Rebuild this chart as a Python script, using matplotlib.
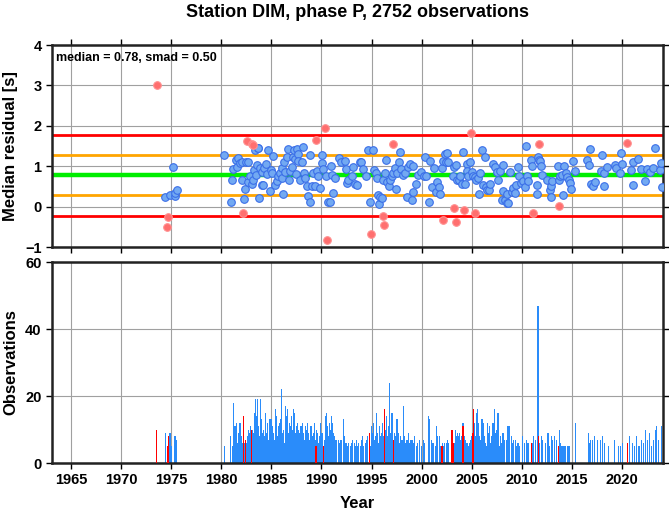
import numpy as np
import matplotlib
matplotlib.use("Agg")
import matplotlib.pyplot as plt

plt.rcParams['font.family'] = ['Liberation Sans', 'DejaVu Sans']

MEDIAN = 0.78
SMAD = 0.50

# monthly median residuals (year, value) -- within bounds
blue_years = [1974.4, 1974.9, 1975.15, 1975.35, 1975.4, 1975.55,
              1980.27, 1980.93, 1981.03, 1981.2, 1981.43, 1981.53, 1981.7, 1981.87, 1982.03,
              1982.1, 1982.3, 1982.37, 1982.5, 1982.63, 1982.7, 1982.86, 1983.03, 1983.2, 1983.3,
              1983.36, 1983.46, 1983.53, 1983.66, 1983.7, 1983.8, 1983.9, 1984.03, 1984.1, 1984.2,
              1984.3, 1984.45, 1984.55, 1984.7, 1984.86, 1985.0, 1985.1, 1985.2, 1985.36, 1985.53,
              1985.7, 1985.86, 1986.02, 1986.1, 1986.19, 1986.29, 1986.4, 1986.52, 1986.69, 1986.76,
              1986.9, 1987.02, 1987.19, 1987.29, 1987.35, 1987.45, 1987.52, 1987.62, 1987.69, 1987.85,
              1988.02, 1988.19, 1988.29, 1988.35, 1988.52, 1988.69, 1988.85, 1988.9, 1989.02, 1989.18,
              1989.35, 1989.52, 1989.68, 1989.85, 1990.01, 1990.08, 1990.18, 1990.45, 1990.68, 1990.85,
              1990.95, 1991.01, 1991.18, 1991.35, 1991.75, 1991.95, 1992.35, 1992.45, 1992.51, 1992.68,
              1993.01, 1993.18, 1993.34, 1993.51, 1993.84, 1994.0, 1994.17, 1994.44, 1994.67, 1994.84,
              1995.1, 1995.24, 1995.44, 1995.57, 1995.67, 1995.7, 1995.84, 1996.0, 1996.1, 1996.34,
              1996.44, 1996.57, 1996.7, 1996.84, 1997.0, 1997.1, 1997.33, 1997.43, 1997.57, 1997.77,
              1997.83, 1997.9, 1998.1, 1998.33, 1998.5, 1998.67, 1998.83, 1999.0, 1999.1, 1999.16,
              1999.43, 1999.66, 1999.99, 2000.23, 2000.33, 2000.43, 2000.76, 2000.89, 2000.99, 2001.23,
              2001.43, 2001.56, 2001.69, 2001.83, 2001.99, 2002.16, 2002.32, 2002.42, 2002.56, 2002.66,
              2003.09, 2003.22, 2003.42, 2003.49, 2003.75, 2003.82, 2003.99, 2004.15, 2004.32, 2004.49,
              2004.55, 2004.65, 2004.82, 2004.99, 2005.15, 2005.32, 2005.48, 2005.65, 2005.75, 2005.88,
              2006.02, 2006.15, 2006.32, 2006.4, 2006.55, 2006.75, 2006.88, 2007.08, 2007.31, 2007.48,
              2007.65, 2007.81, 2007.98, 2008.08, 2008.14, 2008.34, 2008.48, 2008.54, 2008.58, 2008.81,
              2008.98, 2009.14, 2009.31, 2009.47, 2009.64, 2009.71, 2009.97, 2010.14, 2010.37, 2010.47,
              2010.57, 2010.64, 2010.9, 2011.04, 2011.5, 2011.55, 2011.64, 2011.75, 2011.8, 2011.9,
              2012.04, 2012.57, 2012.8, 2012.9, 2012.97, 2013.03, 2013.57, 2013.75, 2013.8, 2013.97,
              2014.13, 2014.23, 2014.37, 2014.56, 2014.7, 2014.83, 2014.96, 2015.13, 2015.36, 2016.56,
              2016.69, 2016.79, 2016.96, 2017.13, 2017.29, 2017.89, 2018.06, 2018.19, 2018.22, 2018.56,
              2019.29, 2019.45, 2019.79, 2019.89, 2020.02, 2020.88, 2021.11, 2021.15, 2021.61, 2021.95,
              2022.28, 2022.55, 2022.78, 2023.11, 2023.28, 2023.78, 2023.95, 2024.0]
blue_vals = [0.23, 0.28, 0.97, 0.27, 0.34, 0.41,
             1.27, 0.11, 0.66, 0.93, 1.16, 0.98, 1.20, 1.08, 0.65,
             1.10, 0.19, 0.44, 1.11, 1.10, 0.61, 0.75, 0.57, 0.65, 0.90,
             1.39, 0.79, 1.02, 1.44, 1.45, 0.22, 0.95, 0.54, 0.85, 0.54,
             0.95, 1.05, 0.80, 1.39, 0.38, 0.90, 0.82, 1.26, 0.54, 0.63,
             0.75, 0.83, 0.71, 0.95, 0.30, 1.10, 0.85, 1.24, 1.43, 0.67,
             0.88, 0.98, 1.24, 1.39, 1.18, 0.80, 1.43, 1.31, 1.12, 0.67,
             1.10, 1.48, 0.83, 0.71, 0.50, 0.27, 0.11, 1.29, 0.50, 0.83,
             0.50, 0.87, 0.75, 0.46, 1.29, 1.07, 0.93, 0.75, 0.11, 0.11,
             1.01, 0.79, 0.34, 0.71, 1.20, 1.10, 1.12, 0.93, 0.58, 0.67,
             0.75, 0.98, 0.57, 0.54, 1.10, 1.10, 0.93, 0.77, 1.39, 0.11,
             1.39, 0.91, 0.82, 0.71, 0.28, 0.07, 0.24, 0.21, 0.65, 0.82,
             1.16, 0.60, 0.50, 0.67, 0.75, 0.83, 0.96, 0.44, 0.83, 1.10,
             1.34, 0.93, 0.79, 0.82, 0.24, 0.98, 1.06, 0.17, 0.35, 1.01,
             0.57, 0.79, 0.85, 0.75, 1.23, 0.75, 0.11, 1.12, 0.49, 0.96,
             0.35, 0.60, 0.49, 0.30, 0.96, 1.12, 1.31, 1.10, 1.33, 1.10,
             0.77, 0.98, 1.04, 0.65, 0.65, 0.77, 0.57, 1.34, 0.57, 1.06,
             0.87, 0.77, 1.10, 0.85, 0.77, 0.73, 0.65, 0.71, 0.30, 0.82,
             1.39, 0.54, 1.24, 0.49, 0.40, 0.42, 0.57, 1.06, 0.98, 0.85,
             0.65, 0.87, 0.17, 1.04, 0.38, 0.16, 0.09, 0.32, 0.09, 0.85,
             0.35, 0.46, 0.34, 0.54, 0.97, 0.77, 0.58, 0.63, 0.49, 1.49,
             0.75, 0.63, 1.15, 1.01, 0.53, 0.32, 1.24, 1.15, 1.12, 1.01,
             0.79, 0.65, 0.40, 0.52, 0.24, 0.63, 1.00, 0.65, 0.75, 0.79,
             0.29, 1.01, 0.83, 0.73, 0.67, 0.58, 0.44, 1.12, 0.87, 1.16,
             1.04, 1.43, 0.57, 0.50, 0.60, 0.87, 1.29, 0.52, 0.82, 0.98,
             1.04, 0.96, 0.83, 1.33, 1.06, 0.90, 1.10, 0.54, 1.18, 0.93,
             0.63, 0.93, 0.85, 0.96, 1.45, 0.90, 1.08, 0.48]

# outlier months
red_years = [1973.55, 1974.6, 1974.7, 1982.2, 1982.53, 1983.03, 1983.2, 1989.42, 1990.35,
             1990.55, 1994.9, 1996.17, 1996.24, 1997.17, 2002.09, 2003.26, 2003.42, 2004.25,
             2004.9, 2005.38, 2011.17, 2011.7, 2013.7, 2020.55]
red_vals = [3.02, -0.50, -0.26, -0.17, 1.62, 1.55, 1.53, 1.66, 1.95,
            -0.82, -0.69, -0.22, -0.45, 1.56, -0.34, -0.03, -0.39, -0.09,
            1.81, -0.17, -0.17, 1.56, 0.02, 1.57]

# observations per month, 1980-2023 (one row per year)
obs_start = 1980
obs_counts = [
    0, 0, 0, 5, 0, 0, 0, 0, 0, 0, 0, 8,          # 1980
    0, 5, 18, 11, 11, 8, 12, 6, 9, 7, 12, 6,     # 1981
    8, 6, 0, 5, 6, 0, 6, 8, 10, 9, 11, 6,        # 1982
    0, 10, 9, 15, 12, 19, 14, 19, 11, 8, 12, 19, # 1983
    13, 9, 10, 8, 15, 11, 9, 12, 7, 13, 10, 13,  # 1984
    13, 11, 9, 7, 16, 10, 14, 8, 11, 12, 9, 13,  # 1985
    22, 9, 10, 6, 9, 17, 14, 16, 9, 12, 8, 11,   # 1986
    14, 10, 16, 15, 9, 8, 11, 12, 10, 9, 7, 11,  # 1987
    10, 12, 9, 7, 11, 10, 8, 12, 9, 7, 10, 11,   # 1988
    11, 8, 9, 12, 7, 0, 10, 9, 6, 8, 12, 9,      # 1989
    6, 9, 0, 7, 14, 13, 15, 11, 8, 12, 9, 10,    # 1990
    14, 12, 9, 8, 7, 5, 7, 0, 7, 6, 5, 7,        # 1991
    5, 0, 13, 8, 5, 6, 0, 5, 6, 0, 5, 6,         # 1992
    5, 7, 0, 6, 5, 0, 7, 5, 6, 0, 5, 7,          # 1993
    6, 8, 5, 0, 6, 5, 7, 8, 0, 0, 5, 6,          # 1994
    11, 9, 12, 7, 8, 10, 15, 9, 6, 11, 8, 9,     # 1995
    7, 12, 8, 0, 10, 9, 14, 8, 11, 24, 9, 10,    # 1996
    15, 12, 0, 9, 8, 6, 13, 7, 9, 6, 8, 7,       # 1997
    6, 7, 17, 8, 6, 0, 7, 5, 9, 6, 7, 0,         # 1998
    7, 0, 6, 8, 0, 5, 0, 6, 0, 7, 0, 5,          # 1999
    0, 0, 7, 6, 0, 0, 0, 0, 14, 13, 0, 7,        # 2000
    6, 0, 6, 0, 5, 11, 0, 8, 0, 8, 5, 0,         # 2001
    0, 6, 5, 6, 0, 6, 0, 7, 6, 0, 0, 5,          # 2002
    0, 7, 0, 6, 10, 8, 9, 6, 8, 9, 7, 8,         # 2003
    12, 0, 12, 8, 7, 6, 0, 6, 5, 6, 7, 8,        # 2004
    0, 6, 0, 12, 8, 15, 16, 10, 12, 8, 7, 13,    # 2005
    13, 10, 12, 8, 6, 5, 7, 12, 9, 11, 6, 8,     # 2006
    8, 12, 10, 16, 9, 10, 15, 15, 12, 5, 8, 6,   # 2007
    0, 9, 6, 7, 0, 7, 0, 11, 6, 11, 0, 8,        # 2008
    0, 6, 7, 0, 7, 5, 6, 6, 0, 5, 0, 0,          # 2009
    8, 0, 0, 6, 0, 7, 0, 6, 0, 0, 0, 0,          # 2010
    6, 0, 8, 0, 7, 0, 0, 47, 0, 6, 0, 8,         # 2011
    7, 0, 0, 0, 6, 0, 0, 9, 8, 5, 0, 8,          # 2012
    7, 0, 0, 8, 0, 7, 0, 0, 0, 10, 6, 5,         # 2013
    5, 5, 0, 5, 5, 0, 5, 5, 5, 5, 0, 0,          # 2014
    0, 0, 0, 0, 12, 0, 0, 0, 0, 0, 0, 0,         # 2015
    0, 0, 0, 0, 0, 0, 0, 7, 9, 6, 7, 0,          # 2016
    7, 0, 0, 8, 0, 0, 7, 0, 0, 0, 7, 0,          # 2017
    8, 0, 0, 6, 0, 0, 0, 5, 0, 0, 0, 0,          # 2018
    0, 0, 0, 7, 0, 0, 0, 5, 0, 0, 5, 0,          # 2019
    6, 0, 0, 0, 0, 0, 0, 0, 0, 8, 0, 0,          # 2020
    6, 0, 0, 5, 0, 8, 0, 0, 5, 0, 0, 7,          # 2021
    0, 6, 0, 0, 10, 0, 7, 0, 0, 9, 0, 5,         # 2022
    0, 7, 0, 0, 10, 11, 0, 7, 0, 0, 0, 11,       # 2023
]
early_bar_years = [1974.46, 1974.88, 1974.96, 1975.04, 1975.38, 1975.54]
early_bar_counts = [9, 9, 7, 5, 8, 7]
red_bar_years = [1973.54, 1974.62, 1974.71, 1982.21, 1982.46, 1983.04, 1989.46, 1990.21,
                 1994.79, 1996.29, 1997.21, 2002.04, 2003.04, 2003.21, 2004.13, 2005.04,
                 2005.21, 2010.96, 2011.71, 2013.63, 2020.54]
red_bar_counts = [10, 5, 8, 14, 7, 10, 5, 5, 9, 16, 7, 5, 10, 6, 11, 9, 16, 6, 8, 5, 6]

xticks = list(range(1965, 2021, 5))

fig = plt.figure(figsize=(6.69, 5.11), dpi=100)
ax1 = fig.add_axes([0.0777, 0.5166, 0.9133, 0.3953])
ax2 = fig.add_axes([0.0777, 0.0939, 0.9133, 0.3933])

for ax in (ax1, ax2):
    ax.set_xlim(1963.1, 2024.1)
    ax.set_xticks(xticks)
    ax.grid(True, color='#a0a0a0', lw=0.8, zorder=0)
    for side in ('left', 'right', 'bottom', 'top'):
        ax.spines[side].set_linewidth(1.8)
        ax.spines[side].set_color('#222222')
    ax.tick_params(direction='out', length=4, width=1, right=True,
                   labelsize=10.5)
    for lab in ax.get_xticklabels() + ax.get_yticklabels():
        lab.set_fontweight('bold')

# top panel
ax1.axhline(MEDIAN, color='#00ee00', lw=3.2, zorder=2)
ax1.axhline(MEDIAN + SMAD, color='#ffa500', lw=2, zorder=2)
ax1.axhline(MEDIAN - SMAD, color='#ffa500', lw=2, zorder=2)
ax1.axhline(MEDIAN + 2 * SMAD, color='#ff0000', lw=2, zorder=2)
ax1.axhline(MEDIAN - 2 * SMAD, color='#ff0000', lw=2, zorder=2)
ax1.scatter(blue_years, blue_vals, s=30, facecolor='#72a9f2', edgecolor='#3a6ee8',
            linewidth=0.8, zorder=3)
ax1.scatter(red_years, red_vals, s=30, facecolor='#ff6f6f', edgecolor='#ff9090',
            linewidth=0.8, zorder=3)
ax1.set_ylim(-1, 4)
ax1.set_yticks([-1, 0, 1, 2, 3, 4])
ax1.tick_params(top=True, labelbottom=False)
ax1.set_ylabel('Median residual [s]', fontsize=12, fontweight='bold', labelpad=5)
ax1.text(0.006, 0.965, f'median = {MEDIAN:.2f}, smad = {SMAD:.2f}', transform=ax1.transAxes,
         fontsize=9, fontweight='bold', va='top', ha='left')
ax1.set_title('Station DIM, phase P, 2752 observations', fontsize=13, fontweight='bold', pad=20)

# bottom panel
month_years = [obs_start + i / 12 + 1 / 24 for i in range(len(obs_counts))]
ax2.bar(month_years, obs_counts, width=0.11, color='#2a8cfa', linewidth=0, zorder=2)
ax2.bar(early_bar_years, early_bar_counts, width=0.11, color='#2a8cfa', linewidth=0, zorder=2)
ax2.bar(red_bar_years, red_bar_counts, width=0.11, color='#ff0000', linewidth=0, zorder=3)
ax2.set_ylim(0, 60)
ax2.set_yticks([0, 20, 40, 60])
ax2.set_ylabel('Observations', fontsize=12, fontweight='bold', labelpad=5)
ax2.set_xlabel('Year', fontsize=12, fontweight='bold', labelpad=6)

fig.savefig('out.png', dpi=100)
